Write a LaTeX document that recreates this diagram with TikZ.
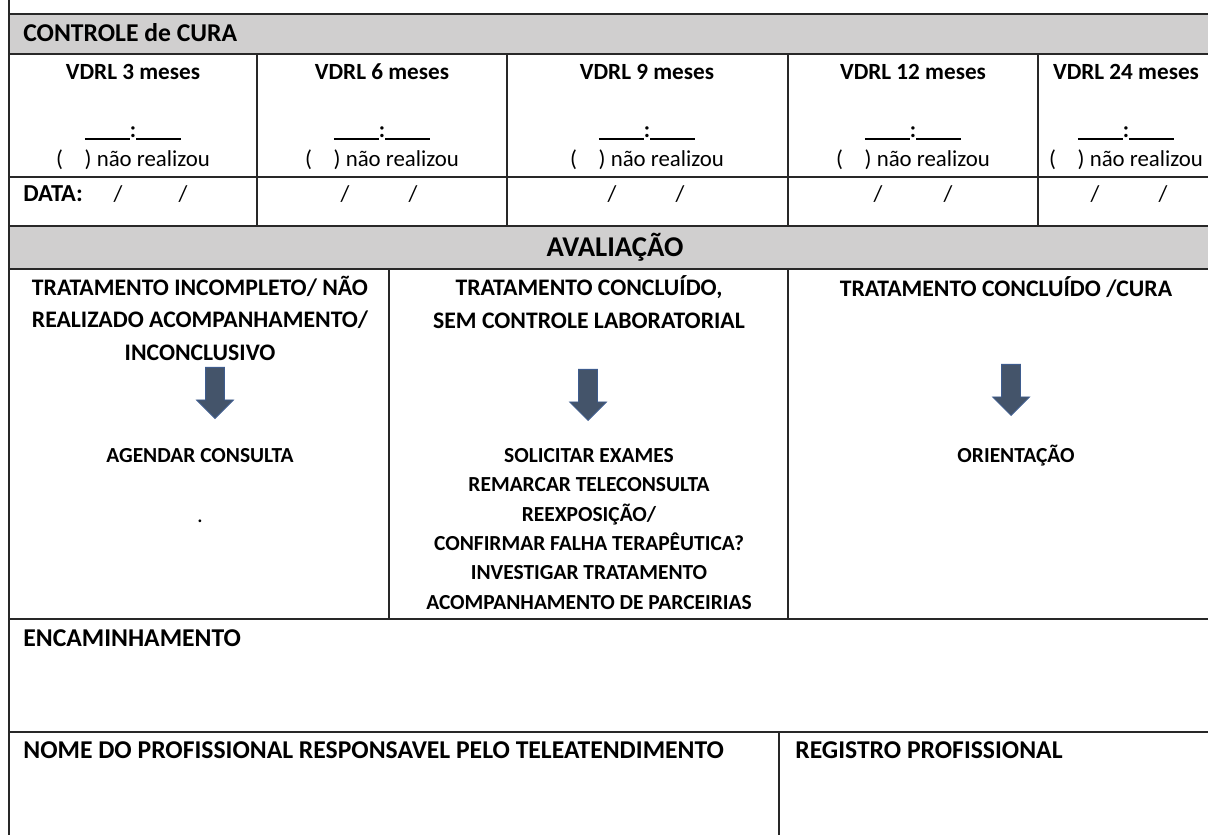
\documentclass[tikz,border=0pt]{standalone}
\usepackage{fontspec}
\setmainfont{Carlito}
\usetikzlibrary{positioning, shapes.arrows}
\definecolor{headgray}{RGB}{208,207,207}
\definecolor{arrowfill}{RGB}{68,84,106}
\definecolor{arrowedge}{RGB}{62,92,142}
\definecolor{rulecol}{RGB}{40,40,40}

\begin{document}
\begin{tikzpicture}[
    x=0.02cm, y=-0.02cm,
    rule/.style={draw=rulecol, line width=1.1pt},
    lefttext/.style={anchor=west, inner sep=0pt, font=\bfseries\fontsize{14.6}{17}\selectfont},
    datatext/.style={anchor=west, inner sep=0pt, font=\bfseries\fontsize{13.9}{16}\selectfont},
    colhead/.style={inner sep=0pt, font=\bfseries\fontsize{13.2}{15}\selectfont},
    plaintext/.style={inner sep=0pt, font=\fontsize{13}{15}\selectfont},
    bigtitle/.style={inner sep=0pt, font=\bfseries\fontsize{16.3}{19}\selectfont},
    celltext/.style={inner sep=0pt, align=center, font=\bfseries\fontsize{13.5}{18.5}\selectfont},
    actiontext/.style={inner sep=0pt, align=center, font=\bfseries\fontsize{12.2}{16.7}\selectfont},
    downarrow/.style={single arrow, rotate=-90, anchor=tip, fill=arrowfill, draw=arrowedge,
        line width=0.5pt, inner xsep=0pt, inner ysep=0.18cm, minimum width=0.72cm,
        minimum height=1.02cm, single arrow head extend=0.18cm, single arrow tip angle=90}
]
\path[use as bounding box] (0,0) rectangle (1208,835);
\clip (0,0) rectangle (1208,835);

% 灰色标题行
\fill[headgray] (9,14) rectangle (1215,54);
\fill[headgray] (9,226) rectangle (1215,269);

% 表格线
\draw[rule] (9,0) -- (9,835);
\foreach \y in {14,54,177,226,269,619,732}
    \draw[rule] (9,\y) -- (1215,\y);
\foreach \x in {257,507,788,1038}
    \draw[rule] (\x,54) -- (\x,226);
\foreach \x in {389,788}
    \draw[rule] (\x,269) -- (\x,619);
\draw[rule] (779,732) -- (779,835);

% 控制行
\node[lefttext] (ctrl) at (23,33) {CONTROLE de CURA};
\foreach \x/\m [count=\i] in {133/3, 382/6, 647/9, 913/12, 1126/24} {
    \node[colhead] (vdrl\i) at (\x,72) {VDRL \m\ meses};
    \node[plaintext, anchor=base] (res\i) at (\x,137)
        {\rule[-1.5pt]{0.9cm}{0.7pt}\textbf{:}\rule[-1.5pt]{0.9cm}{0.7pt}};
    \node[plaintext] (nr\i) at (\x,160) {(\hspace{0.95em}) não realizou};
}

% 日期行
\node[datatext] (data) at (23,194) {DATA:};
\foreach \a/\b [count=\i] in {118/183, 345/413, 612/680, 878/948, 1095/1163} {
    \node[plaintext] (d\i a) at (\a,194) {/};
    \node[plaintext] (d\i b) at (\b,194) {/};
}

% 评估
\node[bigtitle] (aval) at (615,247) {AVALIAÇÃO};

\node[celltext] (inc) at (200,318) {TRATAMENTO INCOMPLETO/ NÃO\\REALIZADO ACOMPANHAMENTO/\\INCONCLUSIVO};
\node[celltext] (sem) at (589,302) {TRATAMENTO CONCLUÍDO,\\SEM CONTROLE LABORATORIAL};
\node[celltext] (cura) at (1006,287) {TRATAMENTO CONCLUÍDO /CURA};

\node[downarrow] (a1) at (215,419) {};
\node[downarrow] (a2) at (588,421) {};
\node[downarrow] (a3) at (1011,416) {};

\node[actiontext] (agendar) at (200,456) {AGENDAR CONSULTA};
\node[plaintext, anchor=base] (ponto) at (200,522) {.};
\node[actiontext] (acoes) at (589,529) {SOLICITAR EXAMES\\REMARCAR TELECONSULTA\\REEXPOSIÇÃO/\\CONFIRMAR FALHA TERAPÊUTICA?\\INVESTIGAR TRATAMENTO\\ACOMPANHAMENTO DE PARCEIRIAS};
\node[actiontext] (orient) at (1016,456) {ORIENTAÇÃO};

% 底部
\node[lefttext] (encam) at (23,638) {ENCAMINHAMENTO};
\node[lefttext] (nome) at (23,750) {NOME DO PROFISSIONAL RESPONSAVEL PELO TELEATENDIMENTO};
\node[lefttext] (registro) at (795,750) {REGISTRO PROFISSIONAL};
\end{tikzpicture}
\end{document}
